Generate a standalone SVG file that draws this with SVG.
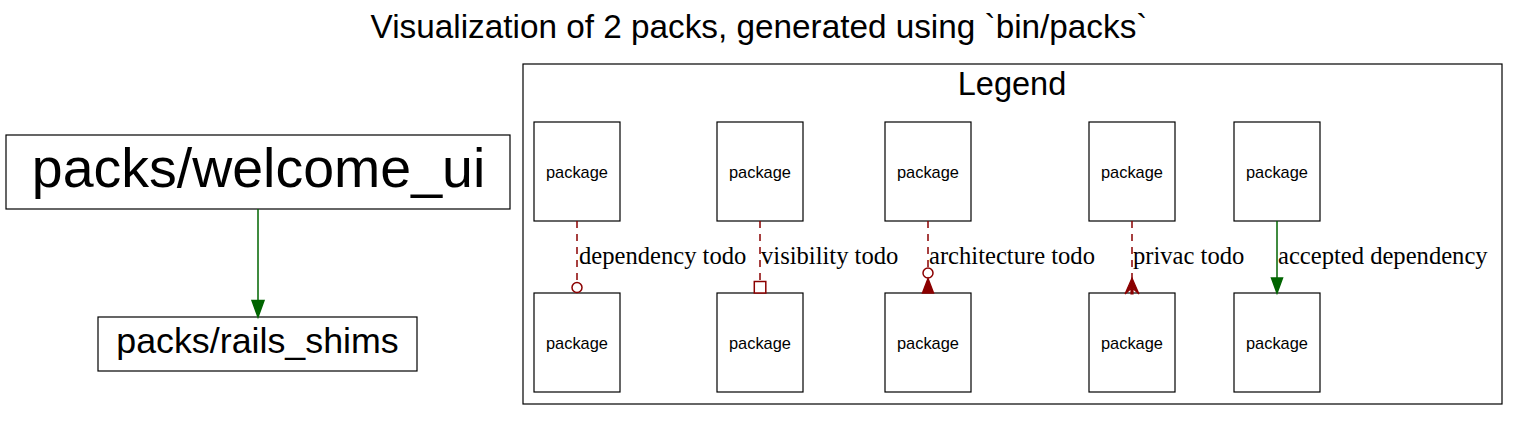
<svg xmlns="http://www.w3.org/2000/svg" width="1519" height="421" viewBox="0 0 1519 421">
<style>
.box{fill:#fff;stroke:#000;stroke-width:1.2}
.sans{font-family:"Liberation Sans",Arial,sans-serif;fill:#000}
.pkg{font-family:"Liberation Sans",Arial,sans-serif;font-size:16.4px;text-anchor:middle;fill:#000}
.lbl{font-family:"Liberation Serif","Times New Roman",serif;font-size:24.6px;fill:#000}
.todo{stroke:#8b0000;stroke-width:1.5;stroke-dasharray:7,6;fill:none}
.ok{stroke:#006400;stroke-width:1.5;fill:none}
</style>
<rect width="1519" height="421" fill="#fff"/>
<text class="sans" x="759" y="38" font-size="33.3" text-anchor="middle">Visualization of 2 packs, generated using `bin/packs`</text>

<g id="welcome_ui">
<rect class="box" x="6" y="135" width="504" height="74"/>
<text class="sans" x="258.5" y="187" font-size="55.5" text-anchor="middle">packs/welcome_ui</text>
</g>
<g id="rails_shims">
<rect class="box" x="98" y="317" width="319" height="54"/>
<text class="sans" x="257.5" y="353" font-size="35.8" text-anchor="middle">packs/rails_shims</text>
</g>

<g id="legend">
<rect x="523" y="64" width="979" height="340" fill="none" stroke="#000" stroke-width="1.2"/>
<text class="sans" x="1012" y="95" font-size="32.5" text-anchor="middle">Legend</text>
</g>

<g id="pkg_a1"><rect class="box" x="534" y="122" width="86" height="99"/><text class="pkg" x="577" y="178">package</text></g>
<g id="pkg_a2"><rect class="box" x="534" y="293" width="86" height="99"/><text class="pkg" x="577" y="349">package</text></g>
<g id="pkg_b1"><rect class="box" x="717" y="122" width="86" height="99"/><text class="pkg" x="760" y="178">package</text></g>
<g id="pkg_b2"><rect class="box" x="717" y="293" width="86" height="99"/><text class="pkg" x="760" y="349">package</text></g>
<g id="pkg_c1"><rect class="box" x="885" y="122" width="86" height="99"/><text class="pkg" x="928" y="178">package</text></g>
<g id="pkg_c2"><rect class="box" x="885" y="293" width="86" height="99"/><text class="pkg" x="928" y="349">package</text></g>
<g id="pkg_d1"><rect class="box" x="1089" y="122" width="86" height="99"/><text class="pkg" x="1132" y="178">package</text></g>
<g id="pkg_d2"><rect class="box" x="1089" y="293" width="86" height="99"/><text class="pkg" x="1132" y="349">package</text></g>
<g id="pkg_e1"><rect class="box" x="1234" y="122" width="86" height="99"/><text class="pkg" x="1277" y="178">package</text></g>
<g id="pkg_e2"><rect class="box" x="1234" y="293" width="86" height="99"/><text class="pkg" x="1277" y="349">package</text></g>

<g id="connectors">
<path class="ok" d="M258,209 L258,301"/>
<polygon points="252,300.5 264,300.5 258,317" fill="#006400" stroke="#006400" stroke-width="1.5"/>

<path class="todo" d="M577,221 L577,282"/>
<circle cx="577" cy="287.5" r="5" fill="#fff" stroke="#8b0000" stroke-width="1.5"/>
<text class="lbl" x="579" y="264">dependency todo</text>

<path class="todo" d="M760,221 L760,281.5"/>
<rect x="754.3" y="281.5" width="11.5" height="11.5" fill="#fff" stroke="#8b0000" stroke-width="1.5"/>
<text class="lbl" x="761" y="264">visibility todo</text>

<path class="todo" d="M928,221 L928,268"/>
<circle cx="928" cy="273" r="5" fill="#fff" stroke="#8b0000" stroke-width="1.5"/>
<polygon points="928,278.5 933.5,293 922.5,293" fill="#8b0000" stroke="#8b0000" stroke-width="1.5"/>
<text class="lbl" x="929" y="264">architecture todo</text>

<path class="todo" d="M1132,221 L1132,280"/>
<path d="M1132,278 L1139,294 L1133,288.5 L1133,294 L1131,294 L1131,288.5 L1125,294 Z" fill="#8b0000" stroke="#8b0000" stroke-width="1.2" stroke-linejoin="miter"/>
<text class="lbl" x="1133" y="264">privac todo</text>

<path class="ok" d="M1277,221 L1277,279"/>
<polygon points="1271.5,278 1282.5,278 1277,293" fill="#006400" stroke="#006400" stroke-width="1.5"/>
<text class="lbl" x="1278" y="264">accepted dependency</text>
</g>
</svg>
